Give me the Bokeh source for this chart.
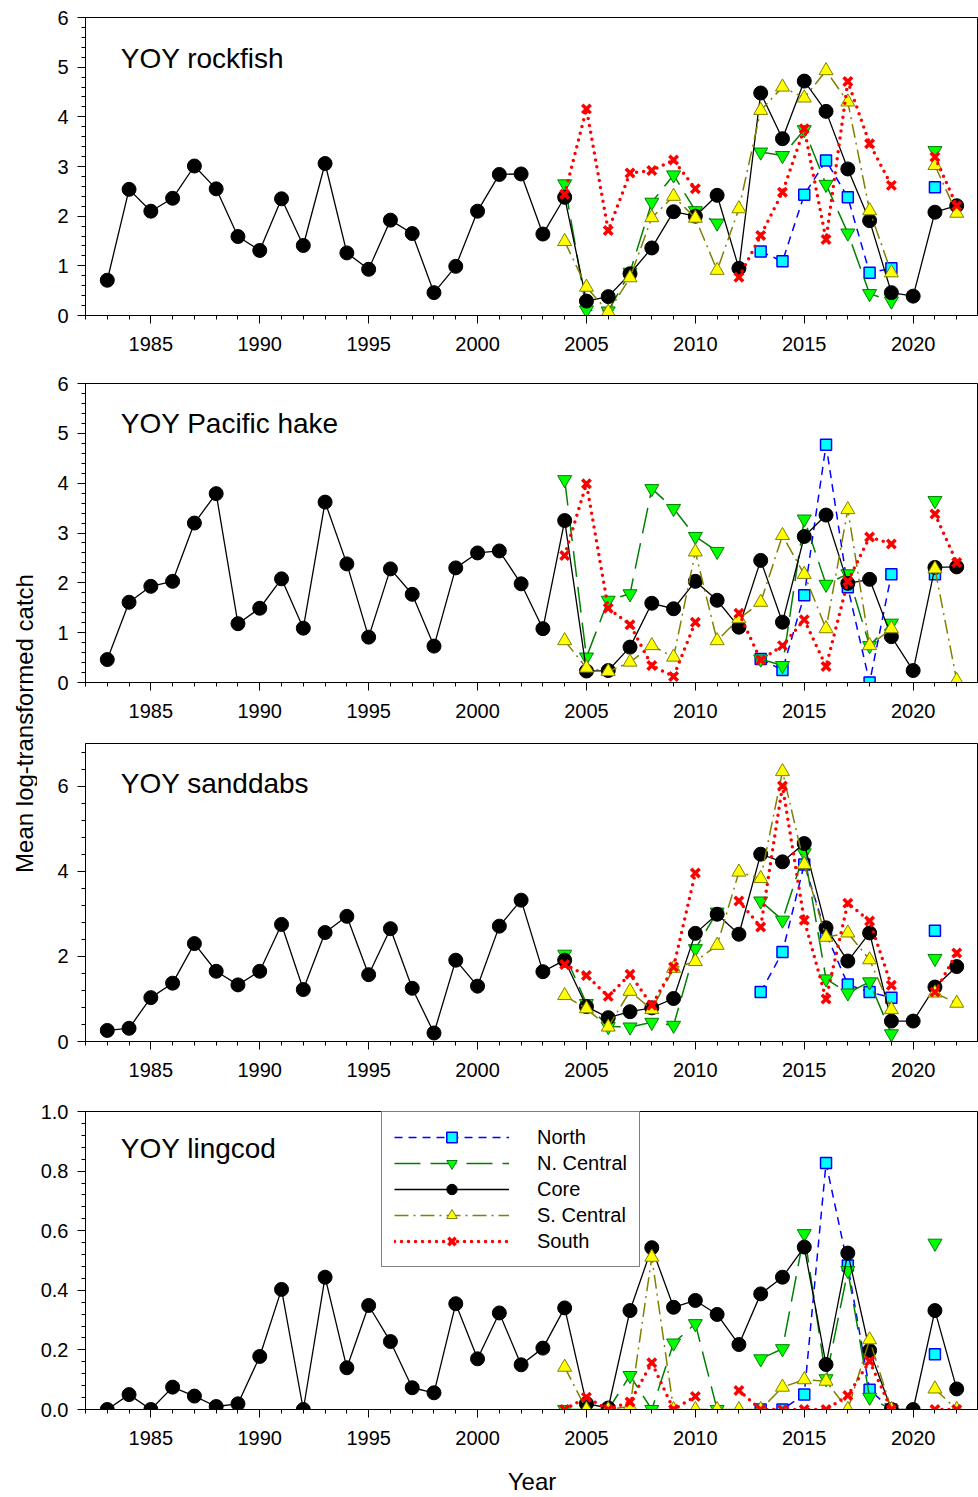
import math
import numpy as np
from bokeh.plotting import figure
from bokeh.layouts import row, column
from bokeh.models import (Range1d, SingleIntervalTicker, PrintfTickFormatter, Label,
                          Legend, LegendItem)
from bokeh.embed import file_html
from bokeh.resources import INLINE

FONT = "Liberation Sans"

years = list(range(1983, 2023))
region_years = list(range(2004, 2023))

# ---------------- YOY rockfish ----------------
rock_core = [0.71, 2.54, 2.10, 2.36, 3.01, 2.55, 1.59, 1.31, 2.35, 1.41, 3.06, 1.26, 0.93, 1.92,
             1.65, 0.46, 0.99, 2.10, 2.84, 2.85, 1.64,
             2.38, 0.29, 0.38, 0.84, 1.36, 2.09, 2.00, 2.42, 0.95, 4.48, 3.56, 4.72, 4.11, 2.95,
             1.91, 0.46, 0.39, 2.08, 2.21]
rock_north = [None, None, None, None, None, None, None, None, None, 1.29, 1.09, 2.43, 3.12, 2.38,
              0.86, 0.95, None, 2.58, None]
rock_ncen = [2.65, 0.11, 0.09, 0.87, 2.28, 2.83, 2.11, 1.86, None, 3.29, 3.22, 3.74, 2.64, 1.66,
             0.44, 0.29, None, 3.32, None]
rock_scen = [1.49, 0.57, 0.07, 0.76, 1.97, 2.40, 1.96, 0.91, 2.15, 4.13, 4.60, 4.38, 4.93, 4.30,
             2.11, 0.86, None, 3.02, 2.06]
rock_south = [2.44, 4.16, 1.71, 2.87, 2.92, 3.13, 2.55, None, 0.77, 1.61, 2.48, 3.76, 1.53, 4.71,
              3.46, 2.62, None, 3.19, 2.21]

# ---------------- YOY Pacific hake ----------------
hake_core = [0.46, 1.61, 1.93, 2.03, 3.20, 3.79, 1.18, 1.49, 2.08, 1.09, 3.62, 2.38, 0.91, 2.28,
             1.77, 0.73, 2.30, 2.60, 2.64, 1.98, 1.08,
             3.25, 0.23, 0.24, 0.71, 1.59, 1.48, 2.03, 1.65, 1.11, 2.45, 1.21, 2.93, 3.36, 1.99,
             2.07, 0.92, 0.24, 2.31, 2.32]
hake_north = [None, None, None, None, None, None, None, None, None, 0.47, 0.25, 1.75, 4.77, 1.91,
              0.0, 2.17, None, 2.17, None]
hake_ncen = [4.07, 0.51, 1.65, 1.78, 3.89, 3.49, 2.93, 2.63, None, 0.47, 0.34, 3.28, 1.97, 2.18,
             0.74, 1.19, None, 3.65, None]
hake_scen = [0.84, 0.29, 0.22, 0.41, 0.74, 0.51, 2.62, 0.84, 1.28, 1.61, 2.95, 2.17, 1.08, 3.47,
             0.74, 1.08, None, 2.28, 0.04]
hake_south = [2.55, 3.99, 1.49, 1.16, 0.34, 0.12, 1.21, None, 1.39, 0.45, 0.74, 1.26, 0.32, 2.03,
              2.92, 2.78, None, 3.38, 2.41]

# ---------------- YOY sanddabs ----------------
sand_core = [0.26, 0.31, 1.03, 1.37, 2.30, 1.65, 1.33, 1.65, 2.75, 1.22, 2.56, 2.94, 1.57, 2.65,
             1.25, 0.20, 1.91, 1.30, 2.71, 3.32, 1.64,
             1.91, 0.82, 0.56, 0.70, 0.79, 1.01, 2.54, 2.99, 2.52, 4.40, 4.22, 4.65, 2.67, 1.89,
             2.55, 0.48, 0.48, 1.28, 1.76]
sand_north = [None, None, None, None, None, None, None, None, None, 1.16, 2.10, 4.16, 2.53, 1.34,
              1.16, 1.03, None, 2.60, None]
sand_ncen = [2.05, 0.89, 0.35, 0.34, 0.45, 0.38, 2.18, 3.04, None, 3.30, 2.85, 4.43, 1.47, 1.14,
             1.40, 0.18, None, 1.95, None]
sand_scen = [1.08, 0.77, 0.34, 1.18, 0.75, 1.72, 1.88, 2.26, 3.98, 3.83, 6.34, 4.16, 2.45, 2.55,
             1.92, 0.75, None, 1.14, 0.90]
sand_south = [1.81, 1.55, 1.06, 1.58, 0.85, 1.75, 3.96, None, 3.30, 2.69, 6.00, 2.85, 1.00, 3.25,
              2.83, 1.32, None, 1.16, 2.08]

# ---------------- YOY lingcod ----------------
ling_core = [0.0, 0.050, 0.0, 0.075, 0.045, 0.010, 0.019, 0.178, 0.403, 0.0, 0.444, 0.140, 0.349,
             0.228, 0.073, 0.056, 0.355, 0.170, 0.324, 0.150, 0.206,
             0.341, 0.020, 0.005, 0.332, 0.543, 0.343, 0.366, 0.319, 0.218, 0.388, 0.444, 0.545,
             0.151, 0.525, 0.198, 0.0, 0.0, 0.332, 0.069]
ling_north = [None, None, None, None, None, None, None, None, None, 0.0, 0.0, 0.05, 0.827, 0.483,
              0.066, 0.0, None, 0.185, None]
ling_ncen = [0.0, 0.0, 0.0, 0.114, 0.0, 0.223, 0.288, 0.0, None, 0.170, 0.204, 0.590, 0.103, 0.466,
             0.041, 0.0, None, 0.558, None]
ling_scen = [0.142, 0.0, 0.0, 0.01, 0.511, 0.0, 0.0, 0.0, 0.0, 0.0, 0.075, 0.100, 0.095, 0.0,
             0.234, 0.0, None, 0.069, 0.0]
ling_south = [0.0, 0.041, 0.0, 0.025, 0.157, 0.0, 0.044, None, 0.064, 0.0, 0.0, 0.0, 0.0, 0.047,
              0.162, 0.0, None, 0.0, 0.0]

series_names = ["North", "N. Central", "Core", "S. Central", "South"]


def arr(v):
    return np.array(v, dtype=float)


def build_panel(title, title_y, core, north, ncen, scen, south, ymax, yint, yfmt,
                height, btop, bbottom, xlabel=None, legend=False):
    p = figure(width=941, height=height, x_range=Range1d(1982, 2023), y_range=Range1d(0, ymax),
               output_backend="svg", toolbar_location=None,
               min_border_left=48, min_border_right=0,
               min_border_top=btop, min_border_bottom=bbottom)
    p.xgrid.visible = False
    p.ygrid.visible = False
    p.outline_line_color = "black"
    p.outline_line_width = 1
    p.background_fill_color = "white"
    p.border_fill_color = "white"

    xa = p.xaxis[0]
    xa.ticker = SingleIntervalTicker(interval=5, num_minor_ticks=5)
    ya = p.yaxis[0]
    ya.ticker = SingleIntervalTicker(interval=yint, num_minor_ticks=5)
    if yfmt:
        ya.formatter = PrintfTickFormatter(format=yfmt)
    for ax in (xa, ya):
        ax.axis_line_color = "black"
        ax.major_tick_line_color = "black"
        ax.minor_tick_line_color = "black"
        ax.major_tick_in = 0
        ax.major_tick_out = 8
        ax.minor_tick_in = 0
        ax.minor_tick_out = 4
        ax.major_label_text_font = FONT
        ax.major_label_text_font_size = "20px"
        ax.major_label_text_color = "black"
    xa.major_label_standoff = 13
    ya.major_label_standoff = 9
    if xlabel:
        xa.axis_label = xlabel
        xa.axis_label_text_font = FONT
        xa.axis_label_text_font_size = "24px"
        xa.axis_label_text_font_style = "normal"
        xa.axis_label_text_color = "black"
        xa.axis_label_standoff = 20

    ry = region_years
    ln = p.line(ry, arr(north), line_color="#0000FF", line_width=1.5, line_dash="8 6")
    sn = p.scatter(ry, arr(north), marker="square", size=11, fill_color="#00FFFF",
                   line_color="#0000FF", line_width=1.5)
    lnc = p.line(ry, arr(ncen), line_color="#008000", line_width=1.5, line_dash="26 10")
    snc = p.scatter(ry, arr(ncen), marker="inverted_triangle", size=14, fill_color="#00FF00",
                    line_color="#008000", line_width=1)
    lc = p.line(years, arr(core), line_color="black", line_width=1.3)
    sc = p.scatter(years, arr(core), marker="circle", size=14, fill_color="black",
                   line_color="black")
    lsc = p.line(ry, arr(scen), line_color="#808000", line_width=1.5, line_dash="14 5 2 5")
    ssc = p.scatter(ry, arr(scen), marker="triangle", size=14, fill_color="#FFFF00",
                    line_color="#808000", line_width=1)
    ls = p.line(ry, arr(south), line_color="#FF0000", line_width=3.5, line_dash="0 7",
                line_cap="round")
    ss = p.scatter(ry, arr(south), marker="x", size=12, line_color="#FF0000", line_width=3.5)

    p.add_layout(Label(x=1983.62, y=title_y, text=title, text_font=FONT,
                       text_font_size="28px", text_baseline="middle", text_align="left",
                       text_color="black"))

    if legend:
        items = [LegendItem(label=series_names[0], renderers=[ln, sn]),
                 LegendItem(label=series_names[1], renderers=[lnc, snc]),
                 LegendItem(label=series_names[2], renderers=[lc, sc]),
                 LegendItem(label=series_names[3], renderers=[lsc, ssc]),
                 LegendItem(label=series_names[4], renderers=[ls, ss])]
        leg = Legend(items=items, location=(296, 142))
        leg.border_line_color = "black"
        leg.border_line_width = 1
        leg.background_fill_color = "white"
        leg.background_fill_alpha = 1
        leg.label_text_font = FONT
        leg.label_text_font_size = "20px"
        leg.label_text_color = "black"
        leg.glyph_width = 115
        leg.glyph_height = 26
        leg.label_height = 20
        leg.label_standoff = 28
        leg.spacing = 0
        leg.padding = 12
        leg.margin = 0
        p.add_layout(leg)
    return p


f1 = build_panel("YOY rockfish", 5.17, rock_core, rock_north, rock_ncen, rock_scen, rock_south,
                 6, 1, None, 371, 17, 56)
f2 = build_panel("YOY Pacific hake", 5.2, hake_core, hake_north, hake_ncen, hake_scen, hake_south,
                 6, 1, None, 360, 12, 49)
f3 = build_panel("YOY sanddabs", 6.05, sand_core, sand_north, sand_ncen, sand_scen, sand_south,
                 7, 2, None, 368, 12, 58)
f4 = build_panel("YOY lingcod", 0.876, ling_core, ling_north, ling_ncen, ling_scen, ling_south,
                 1.0, 0.2, "%.1f", 398, 12, 88, xlabel="Year", legend=True)

lf = figure(width=37, height=1497, x_range=Range1d(0, 37), y_range=Range1d(0, 1497),
            output_backend="svg", toolbar_location=None, min_border=0,
            x_axis_location=None, y_axis_location=None)
lf.outline_line_color = None
lf.xgrid.visible = False
lf.ygrid.visible = False
lf.add_layout(Label(x=24, y=774, text="Mean log-transformed catch", angle=math.pi / 2,
                    text_align="center", text_baseline="middle", text_font=FONT,
                    text_font_size="24px", text_color="black"))

layout = row(lf, column(f1, f2, f3, f4))
open("out.html", "w").write(file_html(layout, INLINE))
